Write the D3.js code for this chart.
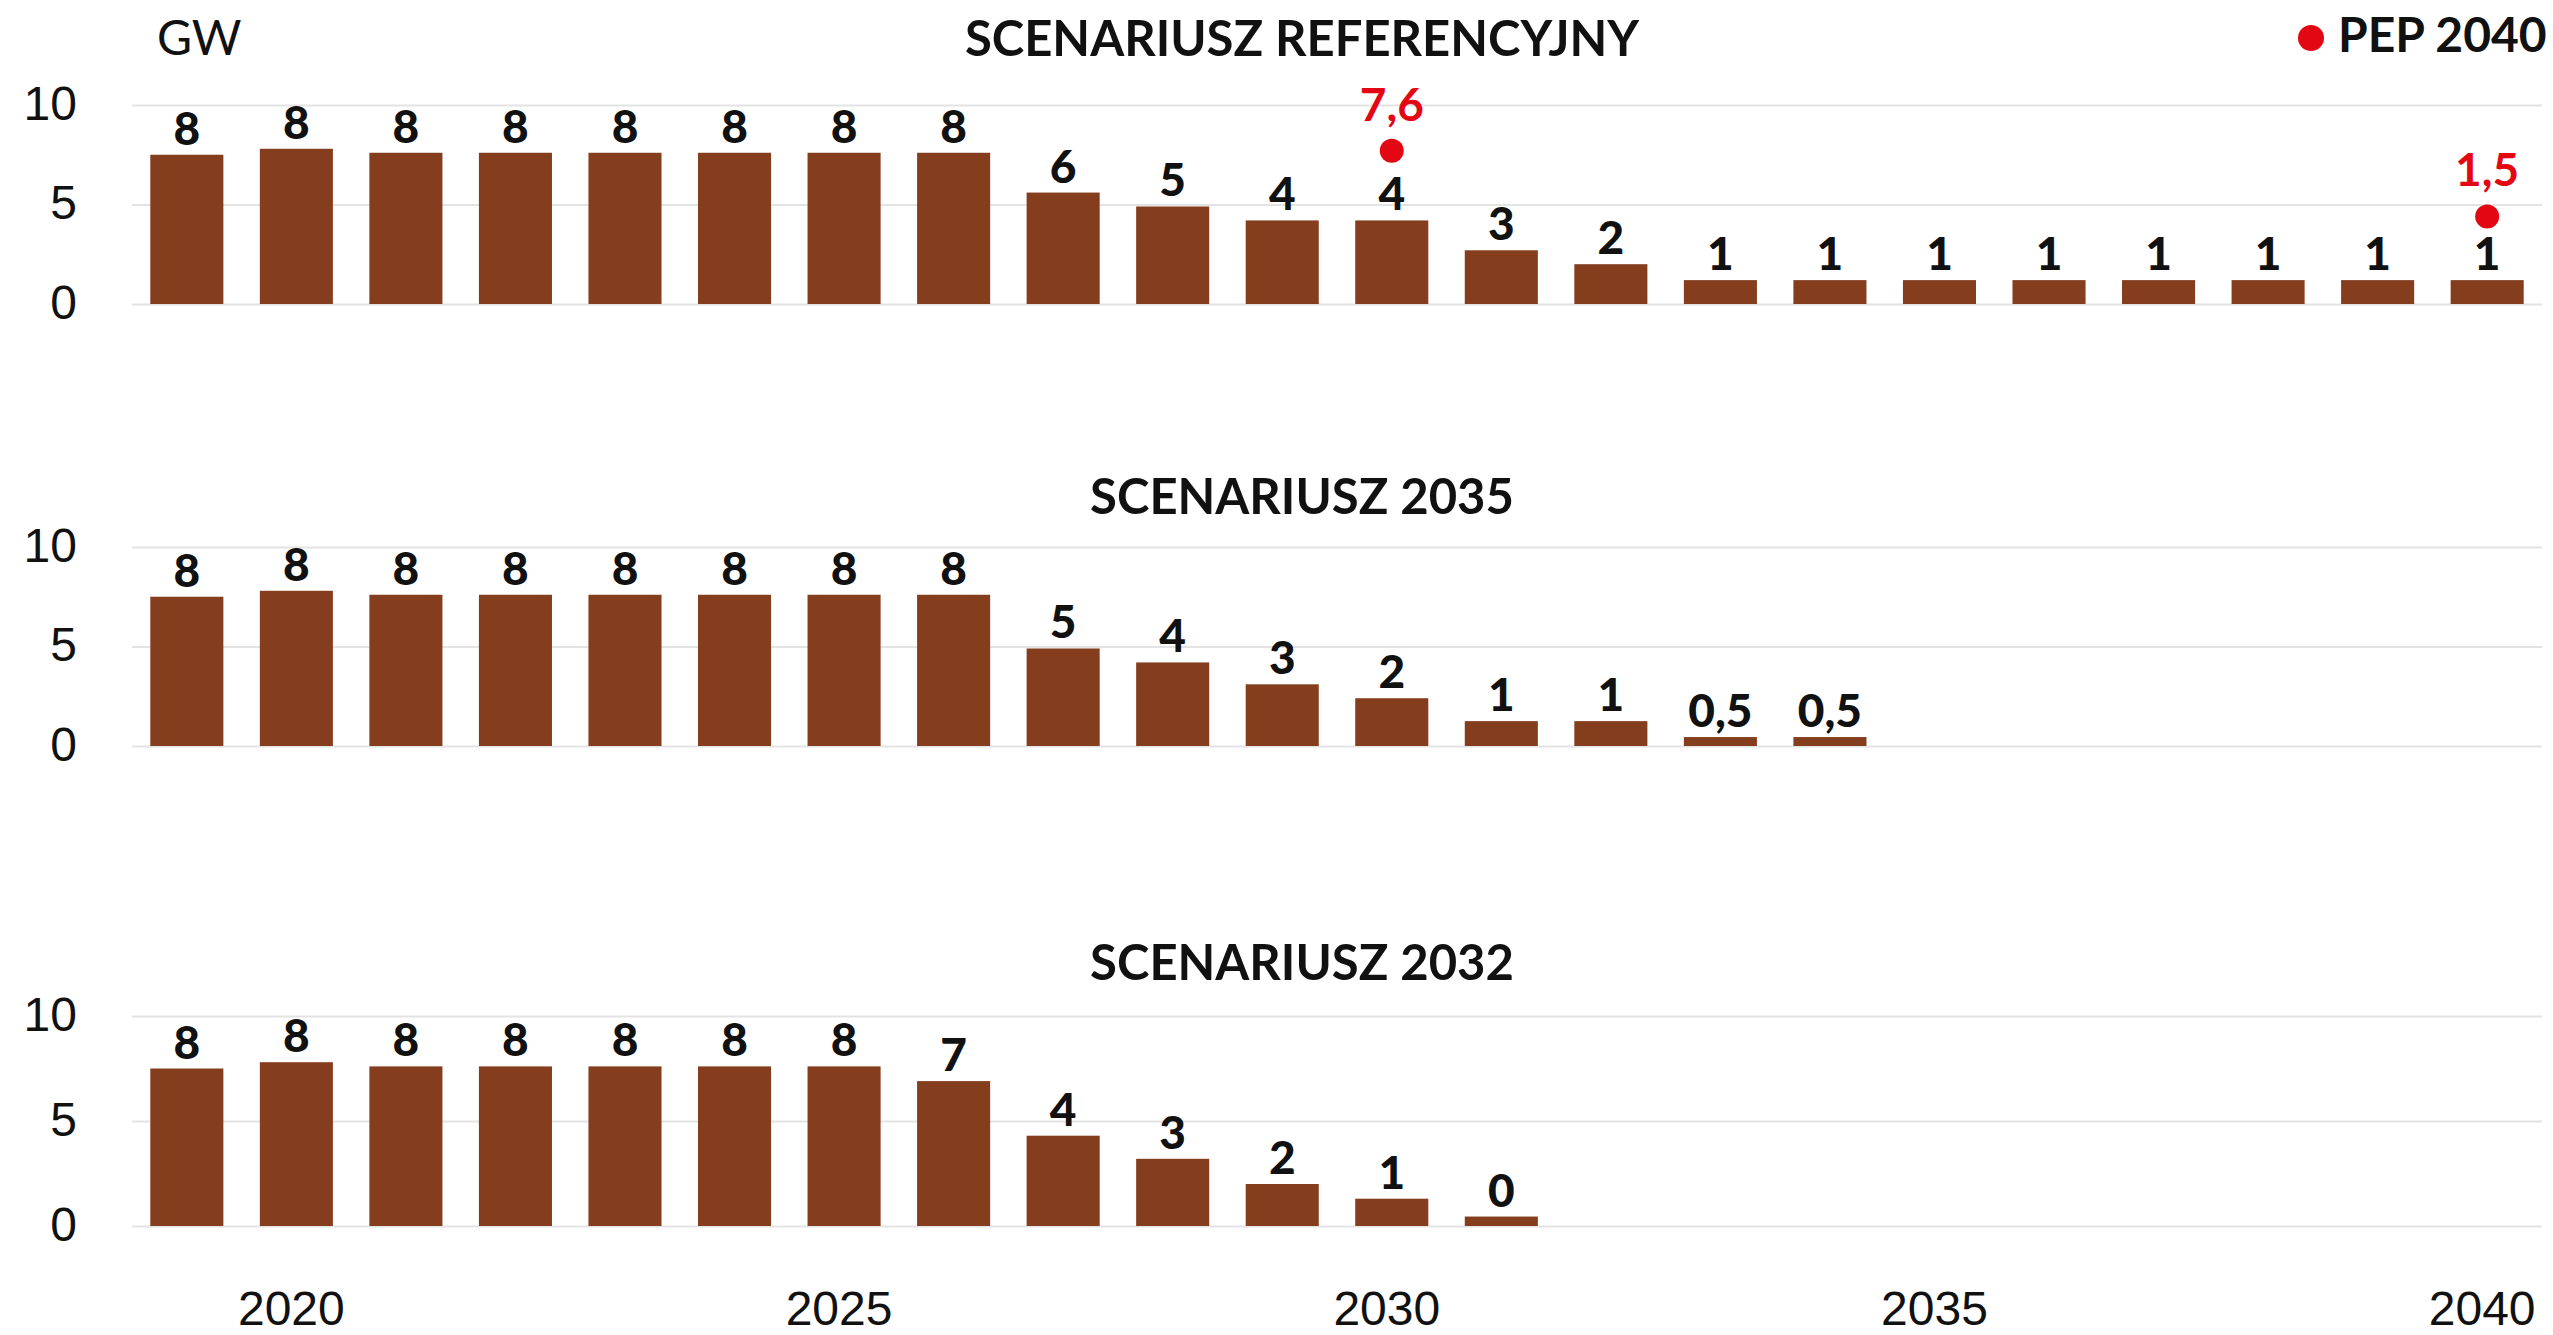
<!DOCTYPE html>
<html>
<head>
<meta charset="utf-8">
<script src="https://cdn.jsdelivr.net/npm/d3@7"></script>
<style>
  body { margin: 0; background: #fff; }
  svg { display: block; font-family: Lato, "Open Sans", sans-serif; }
  .grid line { stroke: #e3e3e3; stroke-width: 2; }
  .grid text { font-size: 48px; fill: #111; }
  .xaxis text { font-size: 48px; fill: #111; }
  .title { font-size: 49px; font-weight: 700; fill: #111; }
  .legend { font-size: 48px; font-weight: 700; fill: #111; }
  .lbl { font-size: 46px; font-weight: 900; fill: #111; }
  .pep { font-size: 46px; font-weight: 700; fill: #e30613; }
</style>
</head>
<body>
<div id="chart"></div>
<script>
// years on the x axis
const years = d3.range(2019, 2041);
const xTicks = [2020, 2025, 2030, 2035, 2040];

// GW per year
const refValues = [7.5, 7.8, 7.6, 7.6, 7.6, 7.6, 7.6, 7.6, 5.6, 4.9, 4.2, 4.2, 2.7, 2.0, 1.2, 1.2, 1.2, 1.2, 1.2, 1.2, 1.2, 1.2];
const refLabels = ["8", "8", "8", "8", "8", "8", "8", "8", "6", "5", "4", "4", "3", "2", "1", "1", "1", "1", "1", "1", "1", "1"];

const s2035Values = [7.5, 7.8, 7.6, 7.6, 7.6, 7.6, 7.6, 7.6, 4.9, 4.2, 3.1, 2.4, 1.25, 1.25, 0.45, 0.45];
const s2035Labels = ["8", "8", "8", "8", "8", "8", "8", "8", "5", "4", "3", "2", "1", "1", "0,5", "0,5"];

const s2032Values = [7.5, 7.8, 7.6, 7.6, 7.6, 7.6, 7.6, 6.9, 4.3, 3.2, 2.0, 1.3, 0.45];
const s2032Labels = ["8", "8", "8", "8", "8", "8", "8", "7", "4", "3", "2", "1", "0"];

// PEP 2040 markers (label value, and the height where the dot sits in the picture)
const pepYears = [2030, 2040];
const pepLabels = ["7,6", "1,5"];
const pepPlotted = [7.7, 4.4];

const yTicks = [0, 5, 10];

const width = 2553, height = 1335;
const barColor = '#843e1e';
const red = '#e30613';

const svg = d3.select('#chart').append('svg')
    .attr('width', width)
    .attr('height', height);

const x = d3.scaleBand()
    .domain(years)
    .range([132, 2542])
    .paddingInner(0.333)
    .paddingOuter(0.167);

// one panel per scenario
const panels = [
    { title: 'SCENARIUSZ REFERENCYJNY', values: refValues, labels: refLabels, y0: 304, y10: 105, titleY: 56 },
    { title: 'SCENARIUSZ 2035', values: s2035Values, labels: s2035Labels, y0: 746, y10: 547, titleY: 514 },
    { title: 'SCENARIUSZ 2032', values: s2032Values, labels: s2032Labels, y0: 1226, y10: 1016, titleY: 980 }
];

panels.forEach((p, pi) => {
    const y = d3.scaleLinear().domain([0, 10]).range([p.y0, p.y10]);
    p.y = y;

    const grid = svg.append('g')
        .attr('class', 'grid')
        .attr('transform', 'translate(132,0)')
        .call(d3.axisLeft(y)
            .tickValues(yTicks)
            .tickSizeInner(-2410)
            .tickSizeOuter(0)
            .tickPadding(55));
    grid.select('.domain').remove();
    grid.selectAll('text').attr('dy', '0.3em');

    svg.append('text')
        .attr('class', 'title')
        .attr('x', 1302)
        .attr('y', p.titleY)
        .attr('text-anchor', 'middle')
        .text(p.title);

    const data = p.values.map((v, i) => ({ year: years[i], value: v, label: p.labels[i] }));

    svg.append('g')
        .selectAll('rect')
        .data(data)
        .enter()
        .append('rect')
        .attr('x', d => x(d.year))
        .attr('width', x.bandwidth())
        .attr('y', d => y(d.value))
        .attr('height', d => y(0) - y(d.value))
        .attr('fill', barColor);

    svg.append('g')
        .selectAll('text')
        .data(data)
        .enter()
        .append('text')
        .attr('class', 'lbl')
        .attr('x', d => x(d.year) + x.bandwidth() / 2)
        .attr('y', d => y(d.value) - 10)
        .attr('text-anchor', 'middle')
        .text(d => d.label);
});

// PEP 2040 dots on the reference panel
const yRef = panels[0].y;
const pep = pepYears.map((yr, i) => ({ year: yr, label: pepLabels[i], plotted: pepPlotted[i] }));
svg.append('g')
    .selectAll('circle')
    .data(pep)
    .enter()
    .append('circle')
    .attr('cx', d => x(d.year) + x.bandwidth() / 2)
    .attr('cy', d => yRef(d.plotted))
    .attr('r', 12)
    .attr('fill', red);
svg.append('g')
    .selectAll('text')
    .data(pep)
    .enter()
    .append('text')
    .attr('class', 'pep')
    .attr('x', d => x(d.year) + x.bandwidth() / 2)
    .attr('y', d => yRef(d.plotted) - 30)
    .attr('text-anchor', 'middle')
    .text(d => d.label);

// unit
svg.append('text')
    .attr('x', 157)
    .attr('y', 55)
    .style('font-size', '48px')
    .style('fill', '#111')
    .text('GW');

// legend
svg.append('circle')
    .attr('cx', 2311)
    .attr('cy', 38)
    .attr('r', 13)
    .attr('fill', red);
svg.append('text')
    .attr('class', 'legend')
    .attr('x', 2338)
    .attr('y', 52)
    .text('PEP 2040');

// x axis at the bottom
const xAxis = svg.append('g')
    .attr('class', 'xaxis')
    .attr('transform', 'translate(0,1226)')
    .call(d3.axisBottom(x)
        .tickValues(xTicks)
        .tickSize(0)
        .tickPadding(65));
xAxis.select('.domain').remove();
xAxis.selectAll('text').attr('dx', -5);
</script>
</body>
</html>
